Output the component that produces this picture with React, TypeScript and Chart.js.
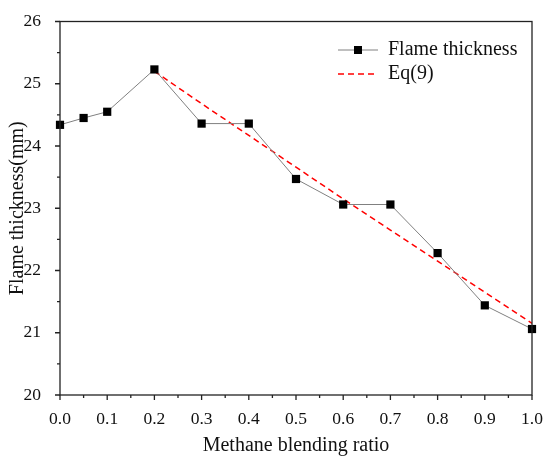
import React, { useEffect, useRef } from "react";
import { Chart, registerables } from "chart.js";

Chart.register(...registerables);

const ratios = [0.0, 0.05, 0.1, 0.2, 0.3, 0.4, 0.5, 0.6, 0.7, 0.8, 0.9, 1.0];
const thickness = [24.34, 24.45, 24.55, 25.23, 24.36, 24.36, 23.47, 23.06, 23.06, 22.28, 21.44, 21.06];
const eqRatios = [0.2, 0.3, 0.4, 0.5, 0.6, 0.7, 0.8, 0.9, 1.0];
const eqValues = [25.2, 24.68, 24.17, 23.66, 23.15, 22.65, 22.15, 21.65, 21.15];
const xMajorTicks = [0, 0.1, 0.2, 0.3, 0.4, 0.5, 0.6, 0.7, 0.8, 0.9, 1.0];
const yMajorTicks = [20, 21, 22, 23, 24, 25, 26];
const seriesNames = ["Flame thickness", "Eq(9)"];

const FONT = "'Liberation Serif', 'Times New Roman', serif";

const framePlugin = {
  id: "frame",
  afterDraw(chart: any) {
    const { ctx, chartArea: a, scales } = chart;
    const xs = scales.x;
    const ys = scales.y;
    ctx.save();
    ctx.strokeStyle = "#222";
    ctx.lineWidth = 1.3;
    ctx.strokeRect(a.left, a.top, a.right - a.left, a.bottom - a.top);
    ctx.beginPath();
    for (let i = 0; i < xMajorTicks.length; i++) {
      const px = xs.getPixelForValue(xMajorTicks[i]);
      ctx.moveTo(px, a.bottom);
      ctx.lineTo(px, a.bottom + 5);
      if (i < xMajorTicks.length - 1) {
        const mid = xs.getPixelForValue((xMajorTicks[i] + xMajorTicks[i + 1]) / 2);
        ctx.moveTo(mid, a.bottom);
        ctx.lineTo(mid, a.bottom + 3);
      }
    }
    for (let i = 0; i < yMajorTicks.length; i++) {
      const py = ys.getPixelForValue(yMajorTicks[i]);
      ctx.moveTo(a.left, py);
      ctx.lineTo(a.left - 5, py);
      if (i < yMajorTicks.length - 1) {
        const mid = ys.getPixelForValue((yMajorTicks[i] + yMajorTicks[i + 1]) / 2);
        ctx.moveTo(a.left, mid);
        ctx.lineTo(a.left - 3, mid);
      }
    }
    ctx.stroke();

    // legend
    const lx = 338;
    const ly1 = 50;
    const ly2 = 74;
    ctx.strokeStyle = "#808080";
    ctx.lineWidth = 1;
    ctx.beginPath();
    ctx.moveTo(lx, ly1);
    ctx.lineTo(lx + 40, ly1);
    ctx.stroke();
    ctx.fillStyle = "#000";
    ctx.fillRect(lx + 16, ly1 - 4, 8, 8);
    ctx.strokeStyle = "#ff0000";
    ctx.lineWidth = 1.5;
    ctx.setLineDash([6, 4]);
    ctx.beginPath();
    ctx.moveTo(lx, ly2);
    ctx.lineTo(lx + 40, ly2);
    ctx.stroke();
    ctx.setLineDash([]);
    ctx.fillStyle = "#111";
    ctx.font = `20px ${FONT}`;
    ctx.textBaseline = "middle";
    ctx.textAlign = "left";
    ctx.fillText(seriesNames[0], lx + 50, ly1);
    ctx.fillText(seriesNames[1], lx + 50, ly2);
    ctx.restore();
  },
};

export default function App() {
  const ref = useRef<HTMLCanvasElement>(null);
  useEffect(() => {
    document.body.style.margin = "0";
    const chart = new Chart(ref.current as HTMLCanvasElement, {
      type: "line",
      data: {
        datasets: [
          {
            label: seriesNames[0],
            data: ratios.map((x, i) => ({ x, y: thickness[i] })),
            borderColor: "#808080",
            borderWidth: 1,
            pointStyle: "rect",
            pointRadius: 5.8,
            pointBackgroundColor: "#000",
            pointBorderColor: "#000",
            pointBorderWidth: 0,
            tension: 0,
            clip: false as any,
          },
          {
            label: seriesNames[1],
            data: eqRatios.map((x, i) => ({ x, y: eqValues[i] })),
            borderColor: "#ff0000",
            borderWidth: 1.5,
            borderDash: [6, 4],
            pointRadius: 0,
            tension: 0,
          },
        ],
      },
      options: {
        animation: false,
        responsive: false,
        devicePixelRatio: 1,
        layout: { padding: { top: 15, right: 18, left: 0, bottom: 0 } },
        plugins: { legend: { display: false }, tooltip: { enabled: false } },
        scales: {
          x: {
            type: "linear",
            min: 0,
            max: 1,
            afterBuildTicks(scale: any) {
              scale.ticks = xMajorTicks.map((v) => ({ value: v }));
            },
            afterFit(scale: any) {
              scale.height = 69;
            },
            grid: { display: false },
            border: { display: false },
            ticks: {
              color: "#111",
              font: { family: FONT, size: 17.5 },
              padding: 6,
              maxRotation: 0,
              callback: (v: any) => Number(v).toFixed(1),
            },
            title: {
              display: true,
              text: "Methane blending ratio",
              color: "#111",
              font: { family: FONT, size: 20 },
              padding: { top: 4, bottom: 6 },
            },
          },
          y: {
            type: "linear",
            min: 20,
            max: 26,
            afterBuildTicks(scale: any) {
              scale.ticks = yMajorTicks.map((v) => ({ value: v }));
            },
            afterFit(scale: any) {
              scale.width = 60;
            },
            grid: { display: false },
            border: { display: false },
            ticks: {
              color: "#111",
              font: { family: FONT, size: 17.5 },
              padding: 11,
              callback: (v: any) => String(v),
            },
            title: {
              display: true,
              text: "Flame thickness(mm)",
              color: "#111",
              font: { family: FONT, size: 20 },
              padding: { top: 6, bottom: 0 },
            },
          },
        },
      },
      plugins: [framePlugin],
    });
    return () => chart.destroy();
  }, []);
  return (
    <div style={{ position: "absolute", left: 0, top: 0, width: 550, height: 464, background: "#fff" }}>
      <canvas ref={ref} width={550} height={464} style={{ width: 550, height: 464 }} />
    </div>
  );
}
